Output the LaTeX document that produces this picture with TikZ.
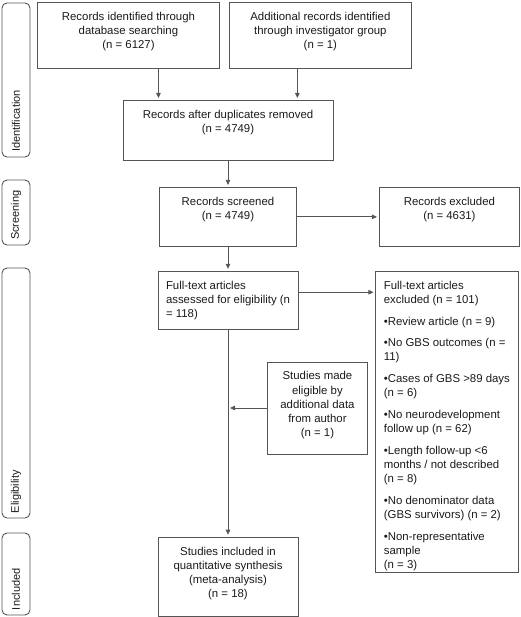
\documentclass[tikz,border=0pt]{standalone}
\usepackage{fontspec}
\setmainfont{Liberation Sans}
\usetikzlibrary{arrows.meta,positioning}
\definecolor{linegray}{HTML}{555555}
\definecolor{txtgray}{HTML}{1A1A1A}
\newcommand{\boxtxt}[4]{\parbox[c][#2][t]{#1}{#3\strut#4}}
\tikzset{
  box/.style={draw=linegray, line width=0.9pt, inner xsep=8pt, inner ysep=8pt, text=txtgray, font=\fontsize{11.4}{14.2}\selectfont},
  phase/.style={draw=linegray, line width=0.9pt, rounded corners=5pt, rotate=90, minimum height=28pt, inner xsep=5pt, align=left, text=txtgray, font=\fontsize{11}{13}\selectfont}
}

\begin{document}
\begin{tikzpicture}[x=1pt, y=-1pt, >={Triangle[length=5pt,width=4.5pt]}, color=linegray, line width=0.8pt]
  \useasboundingbox (0,0) rectangle (520,617);

  \node [phase, text width=144pt] (P1) at (16,80) {Identification};
  \node [phase, text width=55pt] (P2) at (16,212.5) {Screening};
  \node [phase, text width=240pt] (P3) at (16,393) {Eligibility};
  \node [phase, text width=72pt] (P4) at (16,574) {Included};

  \node [box, anchor=north west] (A) at (37,2) {\boxtxt{166pt}{50pt}{\centering}{Records identified through\\database searching\\(n = 6127)}};
  \node [box, right=9pt of A] (B) {\boxtxt{166pt}{50pt}{\centering}{Additional records identified\\through investigator group\\(n = 1)}};

  \node [box, anchor=north] (C) at (228,100) {\boxtxt{194pt}{44pt}{\centering}{Records after duplicates removed\\(n = 4749)}};

  \node [box, below=26pt of C] (D) {\boxtxt{121pt}{43pt}{\centering}{Records screened\\(n = 4749)}};
  \node [box, right=82pt of D] (E) {\boxtxt{124pt}{43pt}{\centering}{Records excluded\\(n = 4631)}};

  \node [box, below=24pt of D] (F) {\boxtxt{124pt}{42pt}{\raggedright}{Full-text articles\\assessed for eligibility (n\\= 118)}};
  \node [box, right=77pt of F.north east, anchor=north west] (G) {\boxtxt{127pt}{285pt}{\raggedright}{Full-text articles\\excluded (n = 101)\\[7.5pt]•Review article (n = 9)\\[7.5pt]•No GBS outcomes (n =\\11)\\[7.5pt]•Cases of GBS >89 days\\(n = 6)\\[7.5pt]•No neurodevelopment\\follow up (n = 62)\\[7.5pt]•Length follow-up <6\\months / not described\\(n = 8)\\[7.5pt]•No denominator data\\(GBS survivors) (n = 2)\\[7.5pt]•Non-representative\\sample\\(n = 3)}};

  \node [box, anchor=west] (H) at (267,408) {\boxtxt{84pt}{76pt}{\centering}{Studies made\\eligible by\\additional data\\from author\\(n = 1)}};

  \node [box, below=207pt of F] (I) {\boxtxt{124pt}{63pt}{\centering}{Studies included in\\quantitative synthesis\\(meta-analysis)\\(n = 18)}};

  \draw [->, shorten >=2pt] ([xshift=30pt]A.south) -- ([xshift=30pt]A.south |- C.north);
  \draw [->, shorten >=2pt] ([xshift=-23pt]B.south) -- ([xshift=-23pt]B.south |- C.north);
  \draw [->, shorten >=2pt] (C) -- (D);
  \draw [->, shorten >=2pt] (D) -- (E);
  \draw [->, shorten >=2pt] (D) -- (F);
  \draw [->, shorten >=2pt] ([yshift=8pt]F.east) -- ([yshift=8pt]F.east -| G.west);
  \draw [->, shorten >=2pt] (F) -- (I);
  \draw [->, shorten >=2pt] (H.west) -- (H.west -| F.south);
\end{tikzpicture}
\end{document}
